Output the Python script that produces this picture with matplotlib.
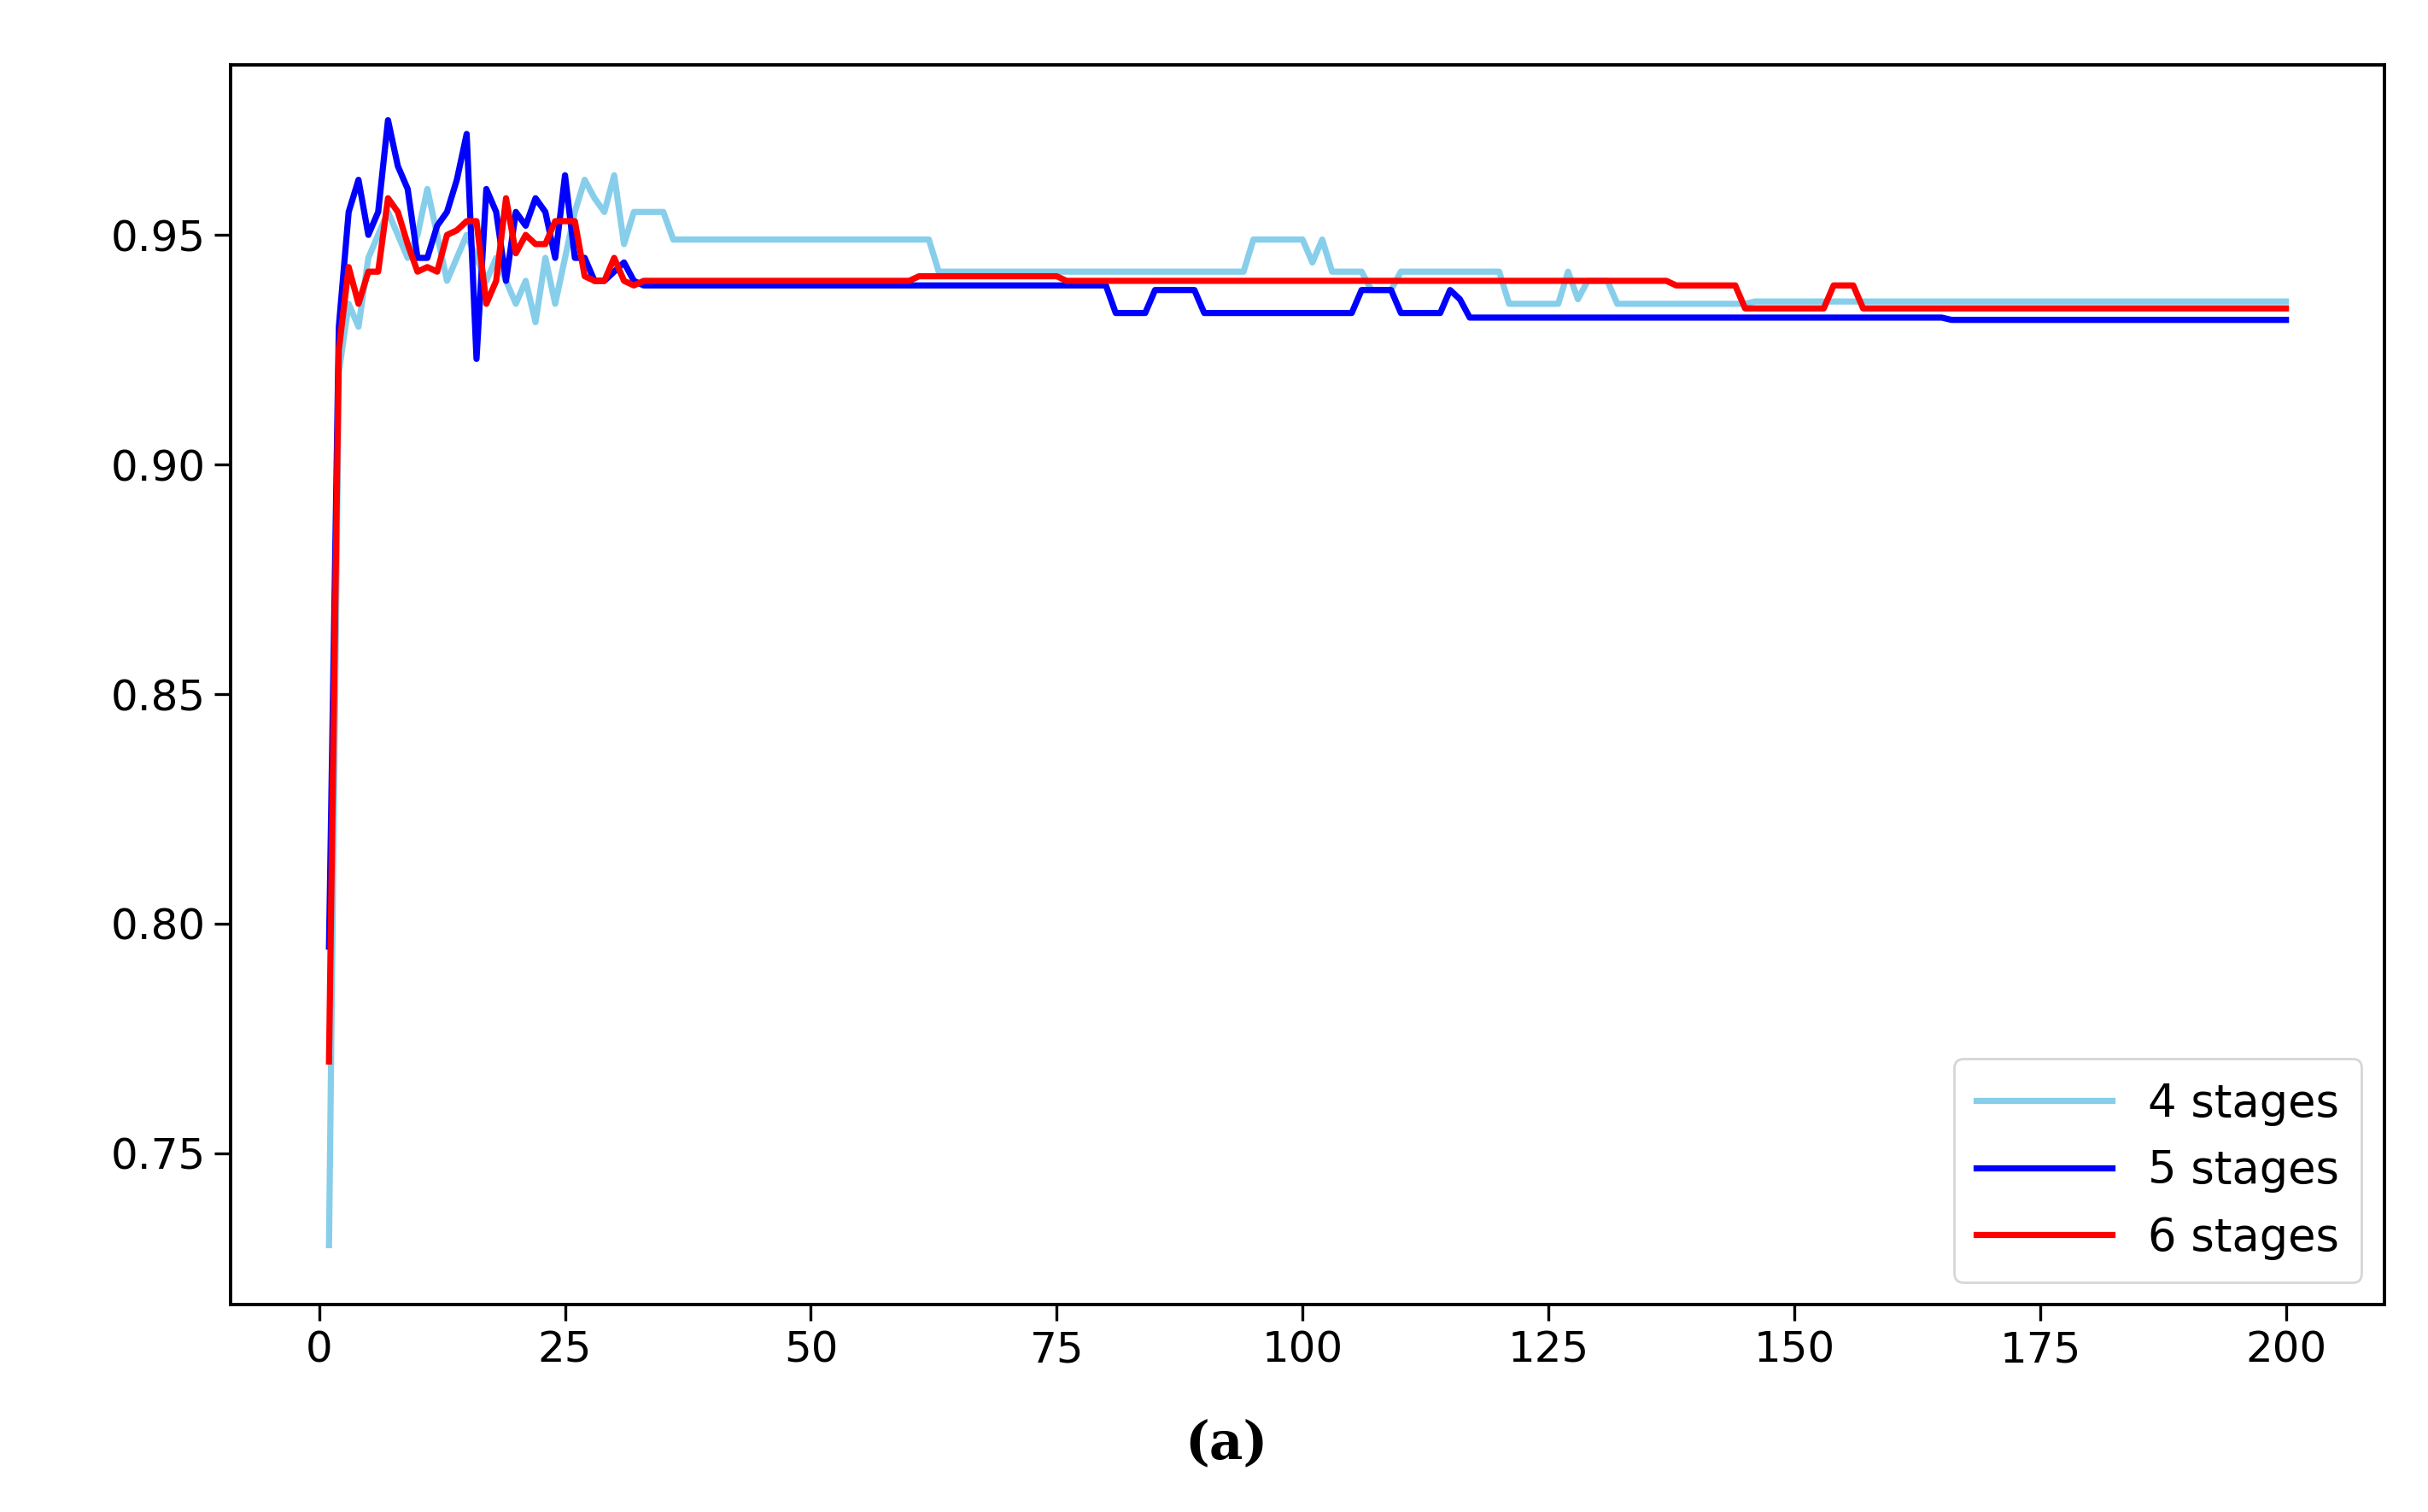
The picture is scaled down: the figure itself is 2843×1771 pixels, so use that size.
import numpy as np
import matplotlib.pyplot as plt

# epochs 1..32 read point by point, then flat segments (start, end, value)
early_4 = [0.73, 0.92, 0.935, 0.93, 0.945, 0.95, 0.955, 0.95, 0.945, 0.95,
           0.96, 0.95, 0.94, 0.945, 0.95, 0.945, 0.94, 0.945, 0.94, 0.935,
           0.94, 0.931, 0.945, 0.935, 0.945, 0.955, 0.962, 0.958, 0.955, 0.963,
           0.948, 0.955]
steps_4 = [(33, 35, 0.955), (36, 62, 0.949), (63, 94, 0.942), (95, 100, 0.949),
           (101, 101, 0.944), (102, 102, 0.949), (103, 106, 0.942), (107, 109, 0.938),
           (110, 120, 0.942), (121, 126, 0.935), (127, 127, 0.942), (128, 128, 0.936),
           (129, 131, 0.94), (132, 145, 0.935), (146, 200, 0.9355)]

early_5 = [0.795, 0.93, 0.955, 0.962, 0.95, 0.955, 0.975, 0.965, 0.96, 0.945,
           0.945, 0.952, 0.955, 0.962, 0.972, 0.923, 0.96, 0.955, 0.94, 0.955,
           0.952, 0.958, 0.955, 0.945, 0.963, 0.945, 0.945, 0.94, 0.94, 0.942,
           0.944, 0.94]
steps_5 = [(33, 80, 0.939), (81, 84, 0.933), (85, 89, 0.938), (90, 105, 0.933),
           (106, 109, 0.938), (110, 114, 0.933), (115, 115, 0.938), (116, 116, 0.936),
           (117, 165, 0.932), (166, 200, 0.9315)]

early_6 = [0.77, 0.925, 0.943, 0.935, 0.942, 0.942, 0.958, 0.955, 0.948, 0.942,
           0.943, 0.942, 0.95, 0.951, 0.953, 0.953, 0.935, 0.94, 0.958, 0.946,
           0.95, 0.948, 0.948, 0.953, 0.953, 0.953, 0.941, 0.94, 0.94, 0.945,
           0.94, 0.939]
steps_6 = [(33, 60, 0.940), (61, 75, 0.941), (76, 137, 0.940), (138, 144, 0.939),
           (145, 153, 0.934), (154, 156, 0.939), (157, 200, 0.934)]


def build(early, steps):
    vals = list(early)
    for s, e, v in steps:
        vals += [v] * (e - s + 1)
    return np.arange(1, len(vals) + 1), np.array(vals)


fig = plt.figure(figsize=(14.215, 8.855), dpi=200)
ax = fig.add_axes([0.095, 0.137, 0.887, 0.82])

for (early, steps), color, label in [((early_4, steps_4), "skyblue", "4 stages"),
                                     ((early_5, steps_5), "blue", "5 stages"),
                                     ((early_6, steps_6), "red", "6 stages")]:
    x, y = build(early, steps)
    ax.plot(x, y, color=color, lw=2.6, label=label)

ax.set_xlim(-9, 210)
ax.set_ylim(0.717, 0.987)
ax.set_xticks([0, 25, 50, 75, 100, 125, 150, 175, 200])
ax.set_yticks([0.75, 0.80, 0.85, 0.90, 0.95])
ax.set_yticklabels(["0.75", "0.80", "0.85", "0.90", "0.95"])
ax.tick_params(labelsize=18, length=7, width=1.2)
for sp in ax.spines.values():
    sp.set_linewidth(1.4)
ax.legend(loc="lower right", fontsize=19, handlelength=3, borderpad=0.5)

fig.text(0.505, 0.045, "(a)", ha="center", va="center", fontsize=22,
         fontweight="bold", family="DejaVu Serif")

fig.savefig("out.png")
